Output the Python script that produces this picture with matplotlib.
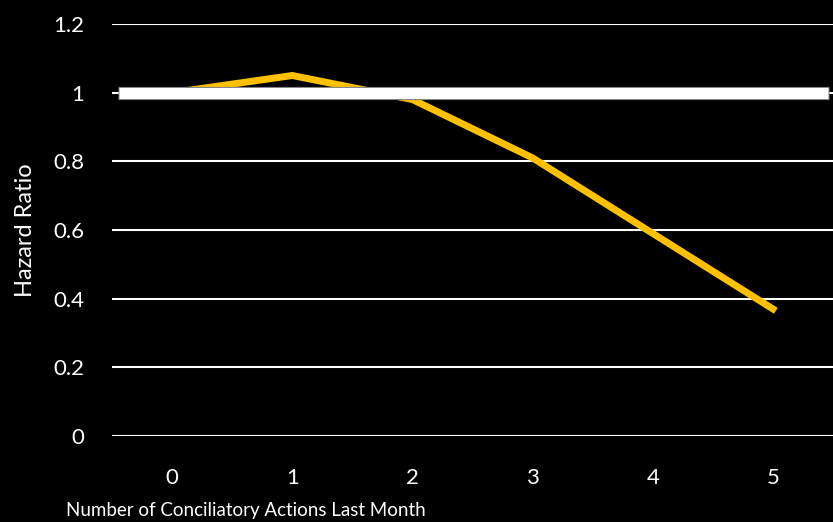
import matplotlib.pyplot as plt

# data
actions = [0, 1, 2, 3, 4, 5]
hazard = [1.0, 1.05, 0.98, 0.81, 0.59, 0.37]
yticks = [0, 0.2, 0.4, 0.6, 0.8, 1, 1.2]
ytick_labels = ['0', '0.2', '0.4', '0.6', '0.8', '1', '1.2']
baseline = 1.0

plt.rcParams['font.family'] = ['Lato', 'DejaVu Sans']

fig = plt.figure(figsize=(8.33, 5.22), dpi=100, facecolor='black')
ax = fig.add_axes([112/833, 1-436/522, 721/833, 412/522])
ax.set_facecolor('black')

ax.set_xlim(-0.5, 5.5)
ax.set_ylim(0, 1.2)
ax.set_yticks(yticks)
ax.set_yticklabels(ytick_labels)
ax.set_xticks(actions)
ax.set_xticklabels([str(a) for a in actions])

for y in yticks:
    ax.axhline(y, color='white', lw=1.5, zorder=1)

ax.plot(actions, hazard, color='#FFC000', lw=5, solid_joinstyle='miter', zorder=2)
ax.axhline(baseline, xmin=6/721, xmax=717/721, color='#808080', lw=9.5,
           solid_capstyle='butt', zorder=3)
ax.axhline(baseline, xmin=7/721, xmax=716/721, color='white', lw=8,
           solid_capstyle='butt', zorder=4)

for s in ax.spines.values():
    s.set_visible(False)
ax.tick_params(length=0, colors='white', labelsize=16)
ax.tick_params(axis='y', pad=20)
ax.tick_params(axis='x', pad=23)

ax.set_xlabel('Number of Conciliatory Actions Last Month', color='white', fontsize=13.5)
ax.xaxis.set_label_coords(0.186, -0.16)
ax.set_ylabel('Hazard Ratio', color='white', fontsize=17)
ax.yaxis.set_label_coords(-0.106, 0.5)

fig.savefig('out.png', dpi=100, facecolor='black')
